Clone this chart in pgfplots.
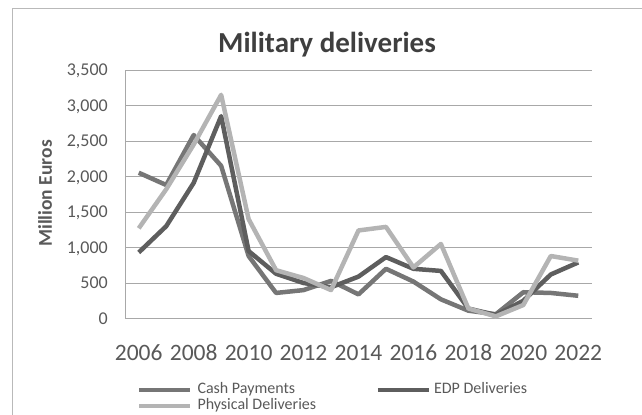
\documentclass[border=0pt]{standalone}
\usepackage{pgfplots}
\pgfplotsset{compat=1.18}
\usepackage{fontspec}
\setmainfont{Carlito}
\definecolor{cashc}{HTML}{767676}
\definecolor{edpc}{HTML}{5E5E5E}
\definecolor{physc}{HTML}{B4B4B4}
\definecolor{gridc}{HTML}{A8A8A8}
\definecolor{txtc}{HTML}{595959}
\definecolor{titc}{HTML}{3F3F3F}
\begin{document}
\begin{tikzpicture}
\path[use as bounding box] (0,0) rectangle (642bp,415bp);
\draw[gridc!80, line width=0.6bp] (12bp,-5bp) -- (12bp,407bp) -- (650bp,407bp);
\node[anchor=base, font=\fontsize{29bp}{34bp}\selectfont\bfseries, text=titc] at (327bp,362bp) {Military deliveries};
\node[rotate=90, font=\fontsize{19.5bp}{23bp}\selectfont\bfseries, text=txtc] at (45bp,221.5bp) {Million Euros};
\begin{axis}[
 at={(125bp,96.5bp)}, anchor=south west, scale only axis, width=467bp, height=248.5bp,
 xmin=2005.5, xmax=2022.5, ymin=0, ymax=3500,
 axis x line*=bottom, axis y line*=left,
 axis line style={draw=gridc, line width=0.75bp, -},
 xtick={2006,2008,...,2022}, xticklabels={2006,2008,2010,2012,2014,2016,2018,2020,2022},
 ytick={0,500,...,3500}, yticklabels={0,500,{1,000},{1,500},{2,000},{2,500},{3,000},{3,500}},
 major tick length=0pt,
 ymajorgrids, grid style={draw=gridc, line width=0.75bp},
 xticklabel style={font=\fontsize{23.5bp}{27bp}\selectfont, text=txtc, anchor=center, yshift=-34.5bp, inner sep=0pt},
 yticklabel style={font=\fontsize{18bp}{21bp}\selectfont, text=txtc, anchor=east, xshift=-17bp, inner sep=0pt, text depth=0pt},
 legend columns=2,
 legend style={at={(0.0257,-0.2556)}, anchor=north west, draw=none, fill=none, inner sep=0pt, outer sep=0pt, column sep=0pt, row sep=0pt, font=\fontsize{16bp}{19bp}\selectfont, text=txtc, nodes={inner sep=0pt, text height=11bp, text depth=5bp}, cells={anchor=west}},
 legend image code/.code={\draw[#1, line cap=butt] (0bp,0bp) -- (51bp,0bp);},
]
\addplot[cashc, line width=4.5bp, line join=round] coordinates {
(2006,2053) (2007,1880) (2008,2584) (2009,2150) (2010,880) (2011,360) (2012,400) (2013,530) (2014,340) (2015,700) (2016,520) (2017,270) (2018,110) (2019,60) (2020,370) (2021,360) (2022,320)};
\addlegendentry{\hspace*{5bp}\makebox[178bp][l]{Cash Payments}}
\addplot[edpc, line width=4.5bp, line join=round] coordinates {
(2006,930) (2007,1300) (2008,1910) (2009,2850) (2010,950) (2011,630) (2012,500) (2013,440) (2014,590) (2015,865) (2016,700) (2017,670) (2018,140) (2019,50) (2020,250) (2021,620) (2022,790)};
\addlegendentry{\hspace*{3bp}EDP Deliveries}
\addplot[physc, line width=4.5bp, line join=round] coordinates {
(2006,1270) (2007,1820) (2008,2450) (2009,3150) (2010,1400) (2011,680) (2012,570) (2013,400) (2014,1240) (2015,1290) (2016,720) (2017,1050) (2018,140) (2019,30) (2020,190) (2021,880) (2022,815)};
\addlegendentry{\hspace*{5bp}Physical Deliveries}
\end{axis}
\end{tikzpicture}
\end{document}
